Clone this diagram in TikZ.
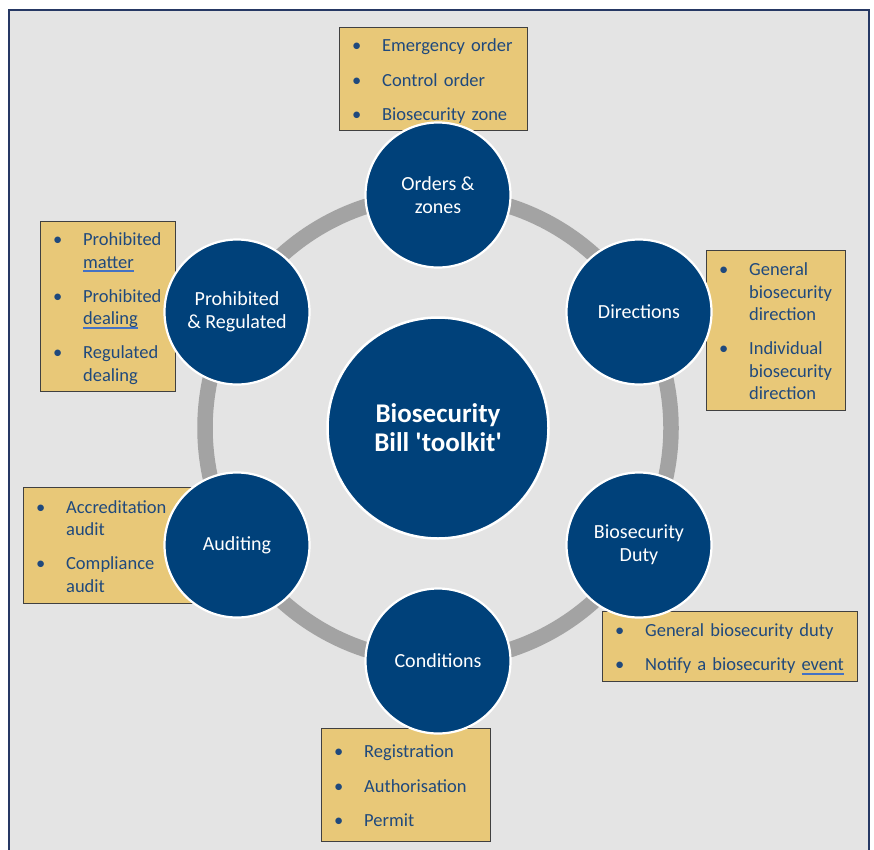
\documentclass[tikz,border=0pt]{standalone}
\usepackage{fontspec}
\setmainfont{Carlito}
\usepackage{array}

\definecolor{panelgrey}{RGB}{228,228,228}
\definecolor{framenavy}{RGB}{38,56,100}
\definecolor{ringgrey}{RGB}{163,163,163}
\definecolor{toolblue}{RGB}{0,65,122}
\definecolor{notegold}{RGB}{232,200,120}
\definecolor{noteink}{RGB}{31,73,125}
\definecolor{markblue}{RGB}{68,114,196}

\newsavebox{\termbox}
\newcommand{\termmark}[1]{\sbox{\termbox}{#1}\rlap{\textcolor{markblue}{\rule[-4pt]{\wd\termbox}{2pt}}}\usebox{\termbox}}

\begin{document}
\begin{tikzpicture}[
    x=1pt, y=-1pt,
    panel/.style={draw=framenavy, line width=2pt, fill=panelgrey},
    ring/.style={draw=ringgrey, line width=15.5pt},
    core/.style={circle, draw=white, line width=2.5pt, fill=toolblue, text=white, minimum size=221pt, inner sep=0pt, align=center, font=\fontsize{27}{29}\selectfont\bfseries},
    tool/.style={circle, draw=white, line width=2.2pt, fill=toolblue, text=white, minimum size=145pt, inner sep=0pt, align=center, font=\fontsize{20}{23}\selectfont},
    note/.style={rectangle, anchor=north west, draw=black!75, line width=1.3pt, fill=notegold, text=noteink, inner xsep=13pt, inner ysep=0pt, align=left, font=\fontsize{18.5}{22.5}\selectfont, execute at begin node={\vspace*{-6pt}}}
    ]
    \useasboundingbox (0,0) rectangle (874,849);
    \draw[panel] (9,10) rectangle (869,880);

    \coordinate (centre) at (438,428);
    \draw[ring] (centre) circle[radius=233pt];

    \node (orderslist) [note, text width=162pt, minimum height=103pt] at (338.5,26.5) {
      \begin{tabular}{@{}p{30pt}@{}l@{}}
        \textbullet & Emergency order\\[12pt]
        \textbullet & Control order\\[12pt]
        \textbullet & Biosecurity zone
      \end{tabular}
    };
    \node (prohibitedlist) [note, text width=109pt, minimum height=170pt] at (39.5,220.5) {
      \begin{tabular}{@{}p{30pt}@{}l@{}}
        \textbullet & Prohibited\\
                    & \termmark{matter}\\[11.5pt]
        \textbullet & Prohibited\\
                    & \termmark{dealing}\\[11.5pt]
        \textbullet & Regulated\\
                    & dealing
      \end{tabular}
    };
    \node (directionslist) [note, text width=113pt, minimum height=160pt] at (705.5,249.5) {
      \begin{tabular}{@{}p{30pt}@{}l@{}}
        \textbullet & General\\
                    & biosecurity\\
                    & direction\\[11.5pt]
        \textbullet & Individual\\
                    & biosecurity\\
                    & direction
      \end{tabular}
    };
    \node (auditinglist) [note, text width=143pt, minimum height=116pt] at (22.5,486.5) {
      \begin{tabular}{@{}p{30pt}@{}l@{}}
        \textbullet & Accreditation\\
                    & audit\\[11.5pt]
        \textbullet & Compliance\\
                    & audit
      \end{tabular}
    };
    \node (dutylist) [note, text width=229pt, minimum height=70pt] at (601.5,610.5) {
      \begin{tabular}{@{}p{30pt}@{}l@{}}
        \textbullet & General biosecurity duty\\[11.5pt]
        \textbullet & Notify a biosecurity \termmark{event}
      \end{tabular}
    };
    \node (conditionslist) [note, text width=143pt, minimum height=113pt] at (320.5,727.5) {
      \begin{tabular}{@{}p{30pt}@{}l@{}}
        \textbullet & Registration\\[12pt]
        \textbullet & Authorisation\\[12pt]
        \textbullet & Permit
      \end{tabular}
    };

    \node (orders) [tool] at (438,195) {Orders \&\\zones};
    \node (directions) [tool] at (639,312) {Directions};
    \node (duty) [tool] at (639,545) {Biosecurity\\Duty};
    \node (conditions) [tool] at (438,661) {Conditions};
    \node (auditing) [tool] at (237,545) {Auditing};
    \node (prohibited) [tool] at (237,312) {Prohibited\\\& Regulated};

    \node (core) [core] at (centre) {Biosecurity\\Bill \textquotesingle toolkit\textquotesingle};
\end{tikzpicture}
\end{document}
